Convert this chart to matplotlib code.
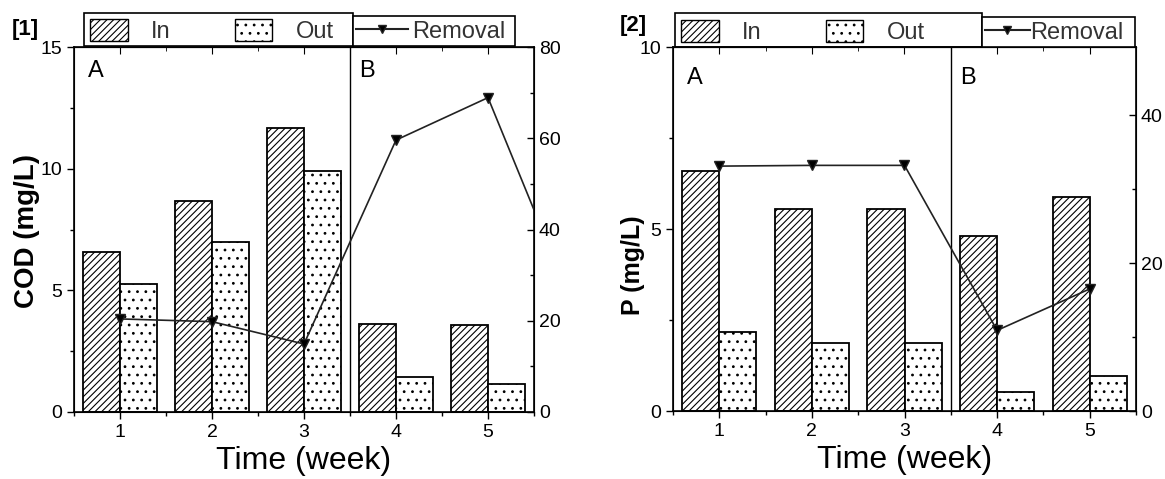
import matplotlib
matplotlib.use('Agg')
import matplotlib.pyplot as plt
from matplotlib.patches import Patch, Rectangle
from matplotlib.lines import Line2D
from matplotlib.ticker import MultipleLocator

plt.rcParams['font.family'] = ['Liberation Sans', 'DejaVu Sans']
plt.rcParams['hatch.linewidth'] = 0.8

# data
weeks = [1, 2, 3, 4, 5]
cod_in = [6.58, 8.67, 11.67, 3.62, 3.58]
cod_out = [5.26, 6.99, 9.90, 1.44, 1.15]
cod_weeks_rm = [1, 2, 3, 4, 5, 6]
cod_removal = [20.4, 19.8, 14.9, 59.6, 68.9, 19.7]

p_in = [6.59, 5.55, 5.55, 4.81, 5.88]
p_out = [2.17, 1.87, 1.87, 0.52, 0.96]
p_removal = [33.1, 33.2, 33.2, 10.9, 16.5]

W, H = 1165, 479
fig = plt.figure(figsize=(W / 100, H / 100), dpi=100)


def px(x0, y_top, x1, y_bot):
    return [x0 / W, 1 - y_bot / H, (x1 - x0) / W, (y_bot - y_top) / H]


def box(rect):
    fig.patches.append(Rectangle(rect[:2], rect[2], rect[3], fill=False,
                                 edgecolor='black', lw=1.2,
                                 transform=fig.transFigure, zorder=5))


def panel(rect, yin, yout, rx, rem, ylim, rlim, lmaj, lmin, rmaj, rmin, ylabel,
          ylab_xy, ylab_size, leg1, leg2, rm_len, rm_pad, ab_y):
    ax = fig.add_axes(rect)
    ax.bar([w - 0.4 for w in weeks], yin, width=0.4, align='edge', color='white',
           edgecolor='black', hatch='/////', linewidth=1.3)
    ax.bar(weeks, yout, width=0.4, align='edge', color='white',
           edgecolor='black', hatch='..', linewidth=1.3)
    ax.set_xlim(0.5, 5.5)
    ax.set_ylim(*ylim)
    ax.axvline(3.5, color='black', lw=1.0)
    ax.xaxis.set_major_locator(MultipleLocator(1))
    ax.xaxis.set_minor_locator(MultipleLocator(0.5))
    ax.yaxis.set_major_locator(MultipleLocator(lmaj))
    ax.yaxis.set_minor_locator(MultipleLocator(lmin))
    ax.tick_params(which='major', direction='out', length=5, labelsize=14, width=1)
    ax.tick_params(which='minor', direction='out', length=3, width=1)
    for s in ax.spines.values():
        s.set_linewidth(1.2)
    top = ax.secondary_xaxis('top')
    top.xaxis.set_major_locator(MultipleLocator(1))
    top.xaxis.set_minor_locator(MultipleLocator(0.5))
    top.tick_params(which='major', direction='in', length=5, labeltop=False)
    top.tick_params(which='minor', direction='in', length=3)
    ax.set_xlabel('Time (week)', fontsize=23, labelpad=4)
    fig.text(ylab_xy[0] / W, 1 - ylab_xy[1] / H, ylabel, rotation=90,
             fontsize=ylab_size, fontweight='bold', ha='center', va='center')
    ax.text(0.03, ab_y, 'A', transform=ax.transAxes, fontsize=17, va='top')
    ax.text(0.62, ab_y, 'B', transform=ax.transAxes, fontsize=17, va='top')

    ax2 = ax.twinx()
    ax2.plot(rx, rem, color='#222222', lw=1.2, marker='v', markersize=7,
             markerfacecolor='black', clip_on=True)
    ax2.set_ylim(*rlim)
    ax2.yaxis.set_major_locator(MultipleLocator(rmaj))
    ax2.yaxis.set_minor_locator(MultipleLocator(rmin))
    ax2.tick_params(which='major', direction='in', length=5, labelsize=14, width=1)
    ax2.tick_params(which='minor', direction='in', length=3, width=1)
    ax2.set_xlim(0.5, 5.5)

    h_in = Patch(facecolor='white', edgecolor='black', hatch='/////', label='In')
    h_out = Patch(facecolor='white', edgecolor='black', hatch='..', label='Out')
    h_rm = Line2D([], [], color='#222222', marker='v', markersize=6,
                  markerfacecolor='black', label='Removal')
    fig.legend(handles=[h_in, h_out], loc='lower left', ncol=2,
               bbox_to_anchor=(leg1[0] + 3 / W, leg1[1]), bbox_transform=fig.transFigure,
               borderaxespad=0, frameon=False, fontsize=17, handlelength=1.6,
               handleheight=1.05, borderpad=0.12, handletextpad=1.0,
               columnspacing=2.7, labelcolor='#333333')
    box(leg1)
    lg2 = fig.legend(handles=[h_rm], loc='lower left', mode='expand',
                     bbox_to_anchor=leg2, bbox_transform=fig.transFigure,
                     borderaxespad=0, fancybox=False, edgecolor='black',
                     fontsize=17, handlelength=rm_len, handleheight=1.05,
                     borderpad=0.12, handletextpad=rm_pad, framealpha=1,
                     labelcolor='#333333')
    lg2.get_frame().set_linewidth(1.2)
    return ax, ax2


panel(px(74, 47, 534, 412), cod_in, cod_out, cod_weeks_rm, cod_removal,
      (0, 15), (0, 80), 5, 2.5, 20, 10, 'COD (mg/L)', (27, 231), 20,
      px(84, 13, 353, 46), px(353, 13, 515, 46), 2.2, 0.2, 0.965)
panel(px(673, 47, 1136, 411), p_in, p_out, weeks, p_removal,
      (0, 10), (0, 49.2), 5, 2.5, 20, 10, 'P (mg/L)', (633, 265), 18,
      px(675, 13, 982, 47), px(982, 13, 1135, 47), 1.9, 0.0, 0.945)

fig.text(25 / W, 1 - 30 / H, '[1]', fontsize=16, fontweight='bold',
         ha='center', va='center')
fig.text(633 / W, 1 - 25 / H, '[2]', fontsize=16, fontweight='bold',
         ha='center', va='center')

fig.savefig('out.png', dpi=100)
